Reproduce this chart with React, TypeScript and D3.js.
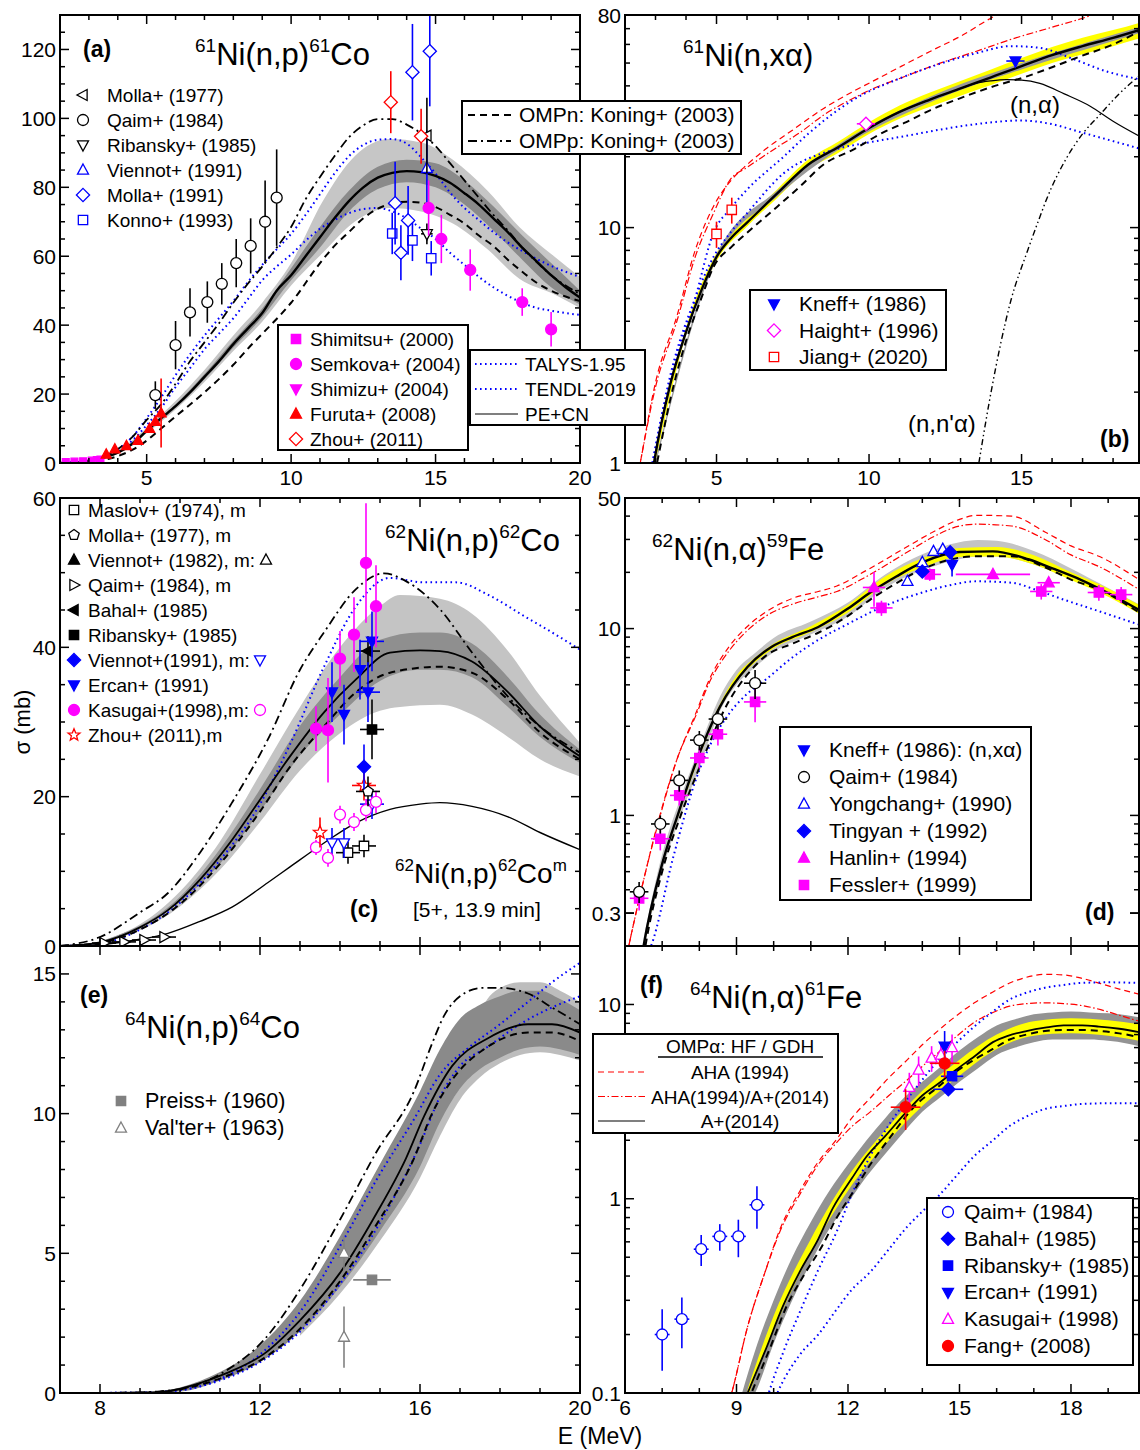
import React from "react";
import * as d3 from "d3";

type P = [number, number];
type Band = [number, number, number];
type Pt = [number, number, number, number]; // E, value, y-error, x-error

const FONT = "'Liberation Sans', Arial, Helvetica, sans-serif";

// ================= Panel (a): 61Ni(n,p)61Co =================
const aPECN: P[] = [[2,0],[2.5,0.1],[3,0.6],[3.5,1.5],[4,3],[4.5,5.5],[5,9.3],[5.5,13],[6,16.5],[6.5,20.5],[7,25],[7.5,29.5],[8,34.5],[8.5,39],[9,43.5],[9.5,50],[10,54.5],[10.5,60],[11,65.5],[11.5,71],[12,76],[12.5,80],[13,82.8],[13.5,84.2],[14,84.7],[14.5,84.4],[15,83.3],[15.5,81.3],[16,78.3],[16.5,75],[17,71],[17.5,67],[18,62.5],[18.5,58.5],[19,54.5],[19.5,51],[20,48]];
const aOMPn: P[] = [[2,0],[3,0.3],[4,2],[4.5,3.8],[5,6.5],[5.5,10],[6,13.5],[7,20.5],[8,28.5],[8.55,33.6],[9,37.5],[10,46.5],[11,58],[11.5,63],[12,67],[12.5,71],[13,73.8],[13.5,75.3],[14,75.8],[14.5,75.5],[15,74.3],[15.5,72],[16,69.5],[16.5,66],[17,63],[17.5,59],[18,55.5],[18.5,52.3],[19,50],[19.5,48.3],[20,47]];
const aOMPp: P[] = [[2,0],[3,0.8],[4,4],[4.5,7.5],[5,12.5],[5.5,17],[6,23],[6.5,29.5],[7,35],[7.5,40.5],[8,46.5],[8.5,52],[9,57],[9.5,62.5],[10,68.5],[10.5,76.5],[11,83],[11.5,89],[12,94.5],[12.5,98],[13,99.8],[13.5,99.8],[14,98.2],[14.5,95.6],[15,92],[15.5,87],[16,82],[16.5,77],[17,72],[17.5,67.5],[18,62.5],[18.5,58.3],[19,54.5],[19.5,51.5],[20,49]];
const aTALYS: P[] = [[2,0],[3,0.8],[4,4],[4.5,7.5],[5,13],[5.5,19],[6,25.5],[6.5,31.5],[7,37],[7.5,42],[8,47],[8.5,52.5],[9,57.5],[9.5,62],[10,66.5],[10.5,72],[11,78],[11.5,84],[12,89],[12.5,92.3],[13,93.8],[13.5,94],[14,92.7],[14.5,88.7],[15,84],[15.5,78.5],[16,74],[16.5,70.5],[17,67],[17.5,64],[18,61.5],[18.5,59.2],[19,57.2],[19.5,55.5],[20,54]];
const aTENDL: P[] = [[2,0],[3,0.7],[4,3.5],[4.5,6.5],[5,11],[5.5,16],[6,22],[6.5,27.5],[7,33],[7.5,37.5],[8,42],[8.5,47.5],[9,53],[9.5,57],[10,60.5],[10.5,64.5],[11,68],[11.5,70.5],[12,72.5],[12.5,73.7],[13,74],[13.5,73],[14,71],[14.5,68],[15,65],[15.5,61],[16,57.5],[16.5,54],[17,51],[17.5,48.5],[18,46.5],[18.5,45],[19,44.2],[19.5,43.5],[20,43]];
const aBandOuter: Band[] = [[2.5,0.05,0.15],[3,0.45,0.75],[4,2.6,3.4],[5,8.6,10.2],[6,15.5,18],[7,23.5,27],[8,32.5,37],[9,41,46.5],[10,51.5,58],[11.1,61,76],[12.2,70,89],[13.4,74,94],[14.5,73,93],[15.6,69.5,88],[16.8,62,79],[17.9,53.5,68.5],[19.1,49,60],[20,45,54]];
const aBandInner: Band[] = [[2.5,0.07,0.13],[3,0.5,0.7],[4,2.8,3.2],[5,9,9.7],[6,16,17],[7,24.3,25.8],[8,33.5,35.5],[9,42.3,44.8],[10,53,56.5],[11,62.5,68.5],[12,73,79],[13,79.5,86],[14,81.5,88],[15,80,87],[16,75,82],[17,67.5,74.5],[18,59,66],[19,51,58],[20,46,50]];
const aMolla77: Pt[] = [[14.7,95,11,0]];
const aQaim: Pt[] = [[5.3,19.7,4,0],[6,34.2,7,0],[6.5,43.7,7,0],[7.1,46.7,6,0],[7.6,52,6,0],[8.1,58,7,0],[8.6,63,8,0],[9.1,70,12,0],[9.5,77,14,0]];
const aRibansky: Pt[] = [[14.7,66.5,3,0.2]];
const aViennot: Pt[] = [[14.7,85.5,11,0]];
const aMolla91: Pt[] = [[13.6,75.4,12,0],[13.8,61,8,0],[14.05,70.4,10,0],[14.2,113.4,14,0],[14.8,119.5,16,0]];
const aKonno: Pt[] = [[13.5,66.6,6,0],[14.2,64.6,6,0],[14.85,59.4,5,0]];
const aShimitsu: Pt[] = [[2.2,0.3,0,0],[2.5,0.4,0,0],[2.8,0.5,0,0],[3.1,0.7,0,0],[3.4,1,0,0]];
const aSemkova: Pt[] = [[14.76,74,8,0],[15.2,65,7,0],[16.2,56,6,0],[18,46.7,4,0],[19,38.8,5,0]];
const aShimizu: Pt[] = [[3.3,1.0,0,0]];
const aFuruta: Pt[] = [[3.6,2.5,0,0],[3.9,4,0,0],[4.3,5,0,0],[4.7,6.5,0,0],[5.1,10,0,0],[5.3,12,0,0],[5.5,14.5,10,0]];
const aZhou: Pt[] = [[13.45,104.7,9,0],[14.5,94.8,8,0]];

// ================= Panel (b): 61Ni(n,xa) =================
const bPECN: P[] = [[2.8,0.75],[2.95,1],[3.5,2.2],[4,3.6],[4.5,5.4],[5,7.5],[5.5,9.1],[6,10.5],[7,14],[8,18.5],[9,22],[10,26.5],[11,31],[12,35],[13,39],[14,43.5],[15,48.5],[16,54],[17,59],[18,64],[18.85,69]];
const bOMPn: P[] = [[2.9,0.8],[3.05,1],[3.5,1.9],[4,3.3],[4.5,5],[4.9,6.8],[5.5,8.3],[6,9.5],[7,12.3],[7.75,15],[8.5,18.5],[9.5,21.5],[10.5,25.5],[11.2,28],[12,31.5],[13,35.5],[13.5,37.5],[14,39.5],[15.2,44],[16,48],[16.95,53.5],[18,60],[18.85,68]];
const bAHA: P[] = [[2.4,0.85],[2.5,1],[3,2.2],[3.7,4.2],[4.3,8],[4.9,12.3],[5.5,16],[6,18.5],[6.6,21.5],[7.5,26],[8.5,32],[9.5,38],[10.07,41.5],[11,48],[12,56],[13,65],[14.1,79],[14.5,84]];
const bAHAA: P[] = [[2.4,0.85],[2.5,1],[3,2.1],[3.7,4],[4.3,7.5],[4.9,11.5],[5.45,16],[6,18],[7,22],[7.75,25.4],[8.5,30],[9.5,35.5],[10.07,38.6],[11,43],[12.4,50.3],[13.5,56],[14.65,63],[16,71],[17.3,80],[17.6,83]];
const bTALYS: P[] = [[2.9,1],[3.5,2.3],[4.3,5],[4.9,9.5],[5.45,12],[6,14.5],[7.2,20],[8,25],[9.5,35],[11,43],[12.4,50],[13.5,55],[14.65,59],[15.6,58],[16.7,52],[17.8,46],[18.85,42.7]];
const bTENDL: P[] = [[2.9,1],[3.5,2.4],[4.3,5],[4.9,7.5],[5.45,9.5],[6,11.5],[7.2,17],[8.9,21.5],[10,23],[11.2,24.5],[12.5,26.3],[13.5,27.5],[15,28.5],[16,27.5],[16.95,25.4],[18,23.3],[18.85,21.7]];
const bNA: P[] = [[10,26.5],[11,31],[12,35],[13,39],[13.5,41],[14,42],[14.5,42.5],[15,42.3],[15.6,41],[16.4,37],[17.25,32.8],[18,28.3],[18.85,24.5]];
const bNNA: P[] = [[13.6,1],[14,2],[14.65,4.9],[15.2,8],[15.6,11.1],[15.8,13],[16.5,20],[17,25],[17.55,30],[18.2,37],[18.85,44]];
const bYellow: Band[] = [[3,1,1.05],[4,3.5,3.75],[5,7.2,7.8],[6,10.1,10.9],[7,13.4,14.6],[8,17.6,19.4],[9,20.8,23.2],[10,25,28],[11,29,33],[12,32.6,37.5],[13,36.3,42],[14,40.3,47],[15,45,52.5],[16,50,58.5],[17,54.5,64],[18,59,69],[18.85,63.5,74]];
const bGray: Band[] = [[3,0.98,1.02],[5,7.3,7.7],[7,13.6,14.4],[9,21.4,22.6],[12,34,36],[15,47,50],[18,62,66],[18.85,67,71]];
const bKneff: Pt[] = [[14.8,51,0,0.3]];
const bHaight: Pt[] = [[9.9,27.6,0,0.3]];
const bJiang: Pt[] = [[5.0,9.4,1.2,0],[5.5,11.9,1.5,0]];

// ================= Panel (c): 62Ni(n,p)62Co =================
const cPECN: P[] = [[7,0],[8,0.5],[9,2.5],[9.7,4.8],[10.5,8.9],[11.3,14.2],[12,19.6],[12.75,25.4],[13.6,31.3],[14.4,35.7],[15.25,39.3],[16,39.6],[16.5,39.5],[17.3,38.1],[18.2,34],[19,29.4],[20,25.4]];
const cOMPn: P[] = [[7,0],[8,0.4],[9,2.2],[10,5.6],[11,11],[12,18],[12.75,24],[13.6,29.4],[14.4,34],[15.25,36.6],[16.5,37.4],[17.3,36.6],[18.2,33],[19,28.6],[20,25]];
const cOMPp: P[] = [[7,0],[8,1.2],[9,4.5],[9.7,7.1],[10.5,12.5],[11.3,19.2],[12.2,27.7],[13,37],[13.6,42],[14.4,47.8],[15.1,49.9],[15.7,48.7],[16.5,45.1],[17.3,39.3],[18.2,33.4],[19,29.4],[20,25.9]];
const cTALYS: P[] = [[7,0],[8,0.3],[9,2.2],[10,5.8],[11,11.5],[12,19],[12.75,27],[13.6,37.4],[14.4,45.5],[15.25,49.3],[16.1,48.7],[16.9,48.7],[17.75,46.9],[18.6,44.2],[19.3,42],[20,39.7]];
const cIsomer: P[] = [[7,0],[8,0.2],[9,0.9],[9.7,1.7],[10.5,3.3],[11.3,5.2],[12.2,8.5],[12.75,10.6],[13.6,13.8],[14.4,16.5],[15.25,18.3],[16,19],[16.5,19.2],[17.3,18.7],[18.2,17.3],[19,15.2],[20,12.9]];
const cBandOuter: Band[] = [[8,0.4,0.6],[9,2.1,2.9],[10,5.3,7.3],[11,10.2,14],[12,16.6,23],[13,23.5,32],[14,28.5,40],[15,31.5,45.5],[15.5,32,47],[16.5,32.3,46.5],[17.3,31,44.5],[18.2,28,39.5],[19,25,33.5],[20,22.7,27.2]];
const cBandInner: Band[] = [[8,0.45,0.55],[10,5.9,6.6],[11,11,13],[12,18,21],[13,25.5,29.5],[14,31,36],[15,35.5,41],[16,37,42],[16.5,37,42],[17.3,36,40.5],[18.2,32,36],[19,28,31],[20,24.5,26.3]];
const cMaslov: Pt[] = [[14.2,12.5,1.5,0.3],[14.6,13.4,1.5,0.3]];
const cMolla77: Pt[] = [[14.7,20.7,2,0.3]];
const cQaim: Pt[] = [[8.1,0.4,0,0.3],[8.6,0.55,0,0.3],[9.1,0.8,0,0.3],[9.6,1.2,0,0.3]];
const cBahal: Pt[] = [[14.7,39.5,2,0.3]];
const cRibansky: Pt[] = [[14.8,29,4,0.3]];
const cViennot91: Pt[] = [[14.6,24,3,0]];
const cViennot91m: Pt[] = [[13.8,13.8,2,0],[14.1,13.8,2,0],[14.8,19,2,0.3]];
const cErcan: Pt[] = [[13.8,34,4,0],[14.1,31,4,0],[14.5,37,4,0],[14.7,34,4,0.3],[14.8,40.8,4,0.3]];
const cKasugai: Pt[] = [[13.4,29.1,3,0],[13.7,28.9,7,0],[14.0,38.5,3.7,0],[14.35,41.7,5,0],[14.65,51.3,8,0],[14.9,45.5,5.5,0]];
const cKasugaiM: Pt[] = [[13.4,13.2,1,0],[13.7,11.8,1.2,0],[14.0,17.6,1.2,0],[14.35,16.6,1.2,0],[14.65,18.2,1.5,0],[14.9,19.3,1.5,0]];
const cZhou: Pt[] = [[13.5,15.2,2,0],[14.6,21.5,2,0.3]];

// ================= Panel (d): 62Ni(n,a)59Fe =================
const dPECN: P[] = [[6.4,0.15],[6.5,0.2],[7,0.55],[7.43,1.02],[7.9,1.9],[8.55,3.8],[9.3,6.25],[9.95,8],[10.5,9],[11.2,10.2],[12,12.8],[12.6,15.6],[13.3,19],[14,22.6],[15,25.7],[15.9,25.9],[16.85,23.5],[17.5,21],[18.25,18.3],[19,15.5],[19.83,12.6]];
const dOMPn: P[] = [[6.45,0.15],[6.55,0.2],[7,0.5],[7.5,1],[8,1.8],[8.8,4.1],[9.3,5.7],[9.77,7.1],[10.5,8.3],[11.2,9.5],[12,11.7],[12.6,14.3],[13.3,17.5],[14,20.8],[14.7,23.3],[15.45,24.4],[16.4,24.4],[17.3,21.3],[18,18.3],[18.75,16.2],[19.83,12.2]];
const dAHA: P[] = [[6.05,0.18],[6.1,0.2],[6.5,0.45],[6.95,1.02],[7.4,2],[7.9,3.5],[8.3,5.5],[8.8,8],[9.3,10.3],[9.77,12.2],[10.5,14.5],[11.2,15.8],[11.7,16.9],[12.5,20.5],[13.6,27.5],[14.3,33],[15,38.4],[15.45,40.4],[16.4,40],[17.3,32.9],[18,27.7],[18.75,24.4],[19.83,18.3]];
const dAHAA: P[] = [[6.05,0.18],[6.1,0.2],[6.5,0.45],[6.95,1],[7.4,2],[7.9,3.4],[8.3,5.3],[8.8,7.6],[9.3,9.8],[9.77,11.6],[10.5,13.5],[11.2,14.8],[11.7,15.8],[12.5,19],[13.6,25.7],[14.3,31],[15,35.4],[15.45,36.2],[16.4,35.4],[17.3,30],[18,24.8],[18.75,21.5],[19.83,16.2]];
const dTALYS: P[] = [[6.6,0.18],[6.7,0.2],[7.3,0.6],[7.9,1.54],[8.3,2.4],[8.8,3.5],[9.3,4.5],[9.77,5.3],[10.5,7],[11.2,8.7],[12,10.6],[12.6,12.2],[13.3,14],[14,15.6],[14.7,17],[15.45,17.9],[16.4,17.6],[17.1,16],[17.8,14.3],[18.8,12.3],[19.83,10.5]];
const dGray: Band[] = [[6.5,0.19,0.22],[7,0.5,0.62],[7.5,1,1.25],[8,1.8,2.3],[8.55,3.6,4.3],[9,5,6],[9.5,6.2,7.4],[10,7.5,8.9],[11,9.3,10.9],[12,11.6,13.8],[13,16.5,19.5],[14,20.5,25],[15,23.5,29],[15.5,24.3,29.8],[16,24.3,29.5],[17,22,26],[18,18.3,21],[19,15,16.5],[19.83,12.1,13.5]];
const dYellow: Band[] = [[6.5,0.195,0.205],[7,0.54,0.56],[7.5,1.08,1.12],[8,2.05,2.15],[8.5,3.55,3.75],[9,5.2,5.6],[9.5,6.6,7.0],[10,7.85,8.3],[11,9.6,10.3],[12,12.2,13.4],[13,17.2,19],[14,21.2,23.8],[15,24.2,27],[16,24.3,27.3],[17,22,24.7],[18,18.2,20],[19,14.8,16.4],[19.83,12,13.4]];
const dKneff: Pt[] = [[14.8,22,3,0]];
const dQaim: Pt[] = [[6.38,0.39,0.05,0.25],[6.95,0.9,0.1,0.25],[7.46,1.54,0.2,0.25],[8.0,2.53,0.3,0.25],[8.5,3.28,0.4,0.25],[9.5,5.1,0.9,0.3]];
const dYongchang: Pt[] = [[13.6,17.9,0,0],[14.0,22.6,0,0],[14.3,25.9,0,0],[14.55,26.6,0,0]];
const dTingyan: Pt[] = [[14.0,20.2,0,0],[14.75,25.6,0,0]];
const dHanlin: Pt[] = [[12.7,16.6,3.5,0.3],[15.9,19.5,0,1.0],[17.4,17.6,0,0.3]];
const dFessler: Pt[] = [[6.38,0.36,0.05,0.25],[6.95,0.75,0.1,0.25],[7.46,1.28,0.15,0.25],[8.0,2.03,0.25,0.25],[8.5,2.72,0.35,0.25],[9.5,4.05,0.9,0.3],[12.9,12.9,1.2,0.3],[14.2,19.5,1.5,0.3],[17.2,15.8,1.5,0.3],[18.75,15.6,1.5,0.3],[19.35,15.2,1.5,0.3]];

// ================= Panel (e): 64Ni(n,p)64Co =================
const ePECN: P[] = [[7,0],[8,0],[9,0.01],[9.5,0.04],[10,0.15],[10.5,0.35],[11.15,0.7],[12.1,1.4],[13,2.6],[14,4.3],[14.9,6.4],[15.65,8.4],[16.1,9.9],[16.8,11.7],[17.7,12.7],[18.7,13.2],[19.3,13.2],[20,12.9]];
const eOMPn: P[] = [[7,0],[8,0],[9,0.01],[9.5,0.04],[10,0.13],[11.15,0.6],[12.1,1.25],[13,2.3],[14,4],[14.9,6],[15.85,8.4],[16.3,10],[16.8,11.2],[17.7,12.4],[18.7,12.9],[19.3,12.9],[20,12.6]];
const eOMPp: P[] = [[7,0],[8,0],[9,0.02],[9.5,0.06],[10.2,0.2],[11.15,0.8],[12.1,1.9],[13,3.7],[14,6.2],[14.9,8.6],[15.85,10.8],[16.3,12.5],[16.6,13.5],[17,14.2],[17.55,14.5],[18,14.5],[18.7,14.3],[19.3,13.8],[20,13.2]];
const eTALYS: P[] = [[7,0],[9,0.01],[10,0.1],[11,0.5],[12.1,1.5],[13,2.9],[14.25,5.9],[14.9,7.6],[15.85,9.8],[16.5,11.4],[17.25,12.4],[18,13.2],[18.7,14],[19.3,14.7],[20,15.4]];
const eTENDL: P[] = [[7,0],[9,0.01],[10,0.1],[11,0.45],[12,1.1],[13,2.2],[14,3.9],[15,6.1],[16,8.9],[16.5,10.6],[17,11.7],[17.7,12.4],[18.5,13.2],[19.3,13.8],[20,14.2]];
const eBandDark: Band[] = [[9.5,0.02,0.06],[10,0.05,0.2],[11,0.45,0.75],[12,1.1,1.7],[13,2.2,3.3],[14,3.8,5.6],[15,5.8,8.2],[16,8.1,10.8],[16.5,9.7,12.3],[17,10.9,13.4],[17.5,11.6,13.9],[18,12,14.2],[18.5,12.3,14.4],[19,12.4,14.4],[19.5,12.3,14.1],[20,12.1,13.7]];
const eBandLight: Band[] = [[13,2.05,2.4],[14,3.55,4],[15,5.45,6],[16,7.7,8.5],[16.5,9.2,10],[17,10.5,11],[17.5,11.3,13.6],[18,11.8,14.5],[18.5,12.1,14.7],[19,12.2,14.7],[19.5,12.1,14.4],[20,11.9,14]];
const ePreiss: Pt[] = [[14.8,4.05,0,0.47]];
const eValter: Pt[] = [[14.1,5.0,0.6,0],[14.1,2.0,1.1,0]];

// ================= Panel (f): 64Ni(n,a)61Fe =================
const fPECN: P[] = [[9.2,0.09],[9.3,0.1],[9.8,0.17],[10.25,0.28],[10.7,0.42],[11.2,0.62],[11.6,0.9],[12.1,1.27],[12.5,1.65],[13,2.1],[13.5,2.7],[14,3.4],[14.5,4],[14.9,4.6],[15.4,5.4],[15.9,6.4],[16.3,6.9],[16.8,7.3],[17.3,7.6],[17.8,7.8],[18.3,7.8],[18.75,7.7],[19.3,7.5],[19.83,7.2]];
const fOMPn: P[] = [[9.3,0.09],[9.4,0.1],[9.9,0.17],[10.35,0.28],[10.8,0.4],[11.3,0.57],[11.7,0.8],[12.2,1.13],[12.6,1.5],[13.1,2.03],[13.8,3],[14.45,3.8],[14.9,4.5],[15.4,5.2],[15.9,5.9],[16.35,6.6],[16.8,7],[17.3,7.3],[17.8,7.4],[18.25,7.4],[18.8,7.3],[19.3,7.1],[19.83,6.8]];
const fAHA: P[] = [[8.8,0.09],[8.87,0.1],[9.3,0.22],[9.77,0.42],[10.2,0.72],[10.7,1.09],[11.2,1.55],[11.7,2.03],[12.1,2.6],[12.6,3.3],[13.1,4.2],[13.6,5.2],[14,6.2],[14.45,7.4],[14.9,8.7],[15.4,10.2],[15.9,11.6],[16.35,12.9],[16.8,13.8],[17.3,14.3],[17.8,14.2],[18.25,13.7],[18.8,12.8],[19.3,12],[19.83,11.3]];
const fAHAA: P[] = [[8.8,0.09],[8.87,0.1],[9.3,0.22],[9.77,0.42],[10.2,0.7],[10.7,1.05],[11.2,1.5],[11.7,1.95],[12.1,2.35],[12.6,2.8],[13.1,3.4],[13.6,4.1],[14,4.8],[14.45,5.7],[14.9,6.8],[15.4,8.1],[15.9,9.1],[16.35,9.8],[16.8,10.1],[17.3,10.2],[17.8,10.1],[18.25,9.9],[18.8,9.4],[19.3,8.8],[19.83,8.2]];
const fTALYS: P[] = [[9.8,0.09],[9.87,0.1],[10.3,0.17],[10.7,0.26],[11.2,0.43],[11.7,0.68],[12.1,1.05],[12.6,1.66],[13.1,2.4],[13.6,3.26],[14,4.1],[14.45,5.2],[14.9,6.3],[15.4,7.7],[15.9,9.2],[16.35,10.6],[16.8,11.5],[17.3,12.2],[17.8,12.6],[18.25,12.9],[19,13],[19.83,12.9]];
const fTENDL: P[] = [[10,0.09],[10.1,0.1],[10.7,0.157],[11.2,0.2],[11.7,0.27],[12.1,0.34],[12.6,0.42],[13.1,0.55],[13.6,0.72],[14,0.86],[14.45,1.04],[14.9,1.3],[15.4,1.66],[15.9,2],[16.35,2.37],[16.8,2.65],[17.3,2.9],[17.8,3.0],[18.25,3.07],[19,3.1],[19.83,3.1]];
const fGray: Band[] = [[9.15,0.08,0.1],[9.5,0.1,0.165],[10,0.18,0.3],[10.5,0.3,0.5],[11,0.47,0.76],[11.5,0.7,1.1],[12,0.95,1.5],[12.5,1.3,2],[13,1.7,2.6],[13.5,2.2,3.3],[14,2.8,4],[14.5,3.35,4.8],[15,4,5.8],[15.5,4.7,6.8],[16,5.5,7.8],[16.5,6,8.4],[17,6.4,8.9],[17.5,6.6,9.1],[18,6.6,9.2],[18.5,6.6,9.1],[19,6.5,9],[19.5,6.3,8.8],[19.83,6.1,8.6]];
const fYellow: Band[] = [[9.3,0.095,0.105],[10,0.21,0.25],[11,0.53,0.62],[12,1.1,1.3],[13,1.9,2.25],[14,3,3.6],[15,4.3,5.2],[16,5.9,7],[17,6.9,8.2],[18,7.1,8.5],[19,6.9,8.3],[19.83,6.5,7.9]];
const fQaim: Pt[] = [[7.0,0.2,0.07,0.2],[7.53,0.24,0.07,0.2],[8.05,0.55,0.1,0.2],[8.55,0.64,0.1,0.2],[9.05,0.64,0.14,0.2],[9.55,0.93,0.23,0.2]];
const fBahal: Pt[] = [[14.7,3.66,0,0.4]];
const fRibansky: Pt[] = [[14.8,4.27,0,0.3]];
const fErcan: Pt[] = [[14.6,6.1,1.2,0]];
const fKasugai: Pt[] = [[13.65,3.75,0.7,0],[13.9,4.6,0.8,0],[14.25,5.3,0.8,0],[14.5,5.5,0.8,0],[14.8,6.0,1,0]];
const fFang: Pt[] = [[13.55,2.96,0.7,0.4],[14.6,4.98,0.8,0.4]];

// ================= helpers =================
const BLUE = "#0000ff", MAG = "#ff00ff", RED = "#ff0000", BLK = "#000";

type Sty = { c: string; w: number; dash: string };
const S_SOLID: Sty = { c: BLK, w: 2.4, dash: "" };
const S_THIN: Sty = { c: BLK, w: 1.2, dash: "" };
const S_DASH: Sty = { c: BLK, w: 2, dash: "7,5" };
const S_DASHDOT: Sty = { c: BLK, w: 1.8, dash: "9,4,2,4" };
const S_DDD: Sty = { c: BLK, w: 1.4, dash: "6,3,1.5,3,1.5,3" };
const S_DOT: Sty = { c: BLUE, w: 2, dash: "1.6,3.4" };
const S_RDASH: Sty = { c: RED, w: 1.2, dash: "6,4" };
const S_RDD: Sty = { c: RED, w: 1.2, dash: "7,2.5,1.5,2.5" };

function range(a: number, b: number, s: number): number[] {
  return d3.range(a, b + 1e-9, s).map((v) => Math.round(v * 1000) / 1000);
}
function logMinor(lo: number, hi: number): number[] {
  const out: number[] = [];
  for (let e = Math.floor(Math.log10(lo)); e <= Math.ceil(Math.log10(hi)); e++) {
    for (let m = 1; m < 10; m++) {
      const v = m * Math.pow(10, e);
      if (v >= lo * 0.999 && v <= hi * 1.001) out.push(v);
    }
  }
  return out;
}

interface Spec {
  id: string; L: number; R: number; T: number; B: number;
  x: any; y: any;
  xMajor: number[]; xMinor: number[]; xLab: number[];
  yMajor: number[]; yMinor: number[]; yLab: [number, string][];
}

function mkSpec(id: string, L: number, R: number, T: number, B: number, xd: [number, number], yd: [number, number], log: boolean,
  xMajor: number[], xMinor: number[], xLab: number[], yMajor: number[], yMinor: number[], yLab: [number, string][]): Spec {
  const x = d3.scaleLinear().domain(xd).range([L, R]);
  const y = log ? d3.scaleLog().domain(yd).range([B, T]) : d3.scaleLinear().domain(yd).range([B, T]);
  return { id, L, R, T, B, x, y, xMajor, xMinor, xLab, yMajor, yMinor, yLab };
}

const specA = mkSpec("a", 60, 580, 15, 463, [2, 20], [0, 130], false, [5, 10, 15, 20], range(2, 20, 1), [5, 10, 15, 20],
  range(0, 120, 20), range(0, 130, 5), [[0, "0"], [20, "20"], [40, "40"], [60, "60"], [80, "80"], [100, "100"], [120, "120"]]);
const specB = mkSpec("b", 625, 1139, 15, 463, [2, 18.85], [1, 80], true, [5, 10, 15], range(2, 18, 1), [5, 10, 15],
  [1, 10], logMinor(1, 80), [[1, "1"], [10, "10"], [80, "80"]]);
const specC = mkSpec("c", 60, 580, 498, 946, [7, 20], [0, 60], false, [8, 12, 16, 20], range(7, 20, 1), [],
  range(0, 60, 20), range(0, 60, 5), [[0, "0"], [20, "20"], [40, "40"], [60, "60"]]);
const specD = mkSpec("d", 625, 1139, 498, 946, [6, 19.83], [0.2, 50], true, [9, 12, 15, 18], range(6, 19, 1), [],
  [0.3, 1, 10], logMinor(0.2, 50), [[0.3, "0.3"], [1, "1"], [10, "10"], [50, "50"]]);
const specE = mkSpec("e", 60, 580, 946, 1393, [7, 20], [0, 16], false, [8, 12, 16, 20], range(7, 20, 1), [8, 12, 16, 20],
  range(0, 15, 5), range(0, 16, 1), [[0, "0"], [5, "5"], [10, "10"], [15, "15"]]);
const specF = mkSpec("f", 625, 1139, 946, 1393, [6, 19.83], [0.1, 20], true, [9, 12, 15, 18], range(6, 19, 1), [6, 9, 12, 15, 18],
  [0.1, 1, 10], logMinor(0.1, 20), [[0.1, "0.1"], [1, "1"], [10, "10"]]);

function Line({ sp, d, s }: { sp: Spec; d: P[]; s: Sty }) {
  const path = d3.line<P>().x((p) => sp.x(p[0])).y((p) => sp.y(p[1])).curve(d3.curveMonotoneX)(d) || "";
  return <path d={path} fill="none" stroke={s.c} strokeWidth={s.w} strokeDasharray={s.dash || undefined} />;
}
function Area({ sp, d, fill }: { sp: Spec; d: Band[]; fill: string }) {
  const path = d3.area<Band>().x((p) => sp.x(p[0])).y0((p) => sp.y(p[1])).y1((p) => sp.y(p[2])).curve(d3.curveMonotoneX)(d) || "";
  return <path d={path} fill={fill} stroke="none" />;
}

function shapePath(shape: string, r: number): string {
  switch (shape) {
    case "square": { const s = r * 0.85; return `M${-s},${-s}H${s}V${s}H${-s}Z`; }
    case "diamond": { const d = r * 1.2; return `M0,${-d}L${d},0L0,${d}L${-d},0Z`; }
    case "up": return `M0,${-r * 1.1}L${r},${r * 0.75}L${-r},${r * 0.75}Z`;
    case "down": return `M0,${r * 1.1}L${r},${-r * 0.75}L${-r},${-r * 0.75}Z`;
    case "left": return `M${-r * 1.1},0L${r * 0.75},${-r}L${r * 0.75},${r}Z`;
    case "right": return `M${r * 1.1},0L${-r * 0.75},${-r}L${-r * 0.75},${r}Z`;
    case "star": {
      let s = "";
      for (let i = 0; i < 10; i++) {
        const a = -Math.PI / 2 + (i * Math.PI) / 5;
        const rr = i % 2 === 0 ? r * 1.15 : r * 0.5;
        s += (i === 0 ? "M" : "L") + (rr * Math.cos(a)).toFixed(2) + "," + (rr * Math.sin(a)).toFixed(2);
      }
      return s + "Z";
    }
    case "pentagon": {
      let s = "";
      for (let i = 0; i < 5; i++) {
        const a = -Math.PI / 2 + (i * 2 * Math.PI) / 5;
        s += (i === 0 ? "M" : "L") + (r * Math.cos(a)).toFixed(2) + "," + (r * Math.sin(a)).toFixed(2);
      }
      return s + "Z";
    }
    default: return `M${r},0A${r},${r} 0 1,1 ${-r},0A${r},${r} 0 1,1 ${r},0Z`;
  }
}

function Mk({ s, x, y, c, f, r = 5.5 }: { s: string; x: number; y: number; c: string; f: boolean; r?: number }) {
  return <path d={shapePath(s, r)} transform={`translate(${x},${y})`} fill={f ? c : "#fff"} stroke={c} strokeWidth={1.3} />;
}

function Pts({ sp, d, s, c, f, r = 5.5 }: { sp: Spec; d: Pt[]; s: string; c: string; f: boolean; r?: number }) {
  return (
    <g>
      {d.map((p, i) => {
        const px = sp.x(p[0]), py = sp.y(p[1]);
        const lo = Math.max(p[1] - p[2], 1e-3);
        return (
          <g key={i}>
            {p[2] > 0 && <line x1={px} x2={px} y1={sp.y(lo)} y2={sp.y(p[1] + p[2])} stroke={c} strokeWidth={1.6} />}
            {p[3] > 0 && <line x1={sp.x(p[0] - p[3])} x2={sp.x(p[0] + p[3])} y1={py} y2={py} stroke={c} strokeWidth={1.6} />}
            <Mk s={s} x={px} y={py} c={c} f={f} r={r} />
          </g>
        );
      })}
    </g>
  );
}

function Frame({ sp }: { sp: Spec }) {
  const { L, R, T, B } = sp;
  const els: any[] = [];
  const MJ = 9, MN = 5;
  sp.xMinor.forEach((v, i) => {
    const X = sp.x(v);
    if (X < L - 0.5 || X > R + 0.5) return;
    const len = sp.xMajor.includes(v) ? MJ : MN;
    els.push(<line key={"xb" + i} x1={X} x2={X} y1={B} y2={B - len} stroke="#000" strokeWidth={1.5} />);
    els.push(<line key={"xt" + i} x1={X} x2={X} y1={T} y2={T + len} stroke="#000" strokeWidth={1.5} />);
  });
  const yAll = Array.from(new Set([...sp.yMinor, ...sp.yMajor]));
  yAll.forEach((v, i) => {
    const Y = sp.y(v);
    if (Y < T - 0.5 || Y > B + 0.5) return;
    const len = sp.yMajor.some((m) => Math.abs(m - v) < 1e-9) ? MJ : MN;
    els.push(<line key={"yl" + i} x1={L} x2={L + len} y1={Y} y2={Y} stroke="#000" strokeWidth={1.5} />);
    els.push(<line key={"yr" + i} x1={R} x2={R - len} y1={Y} y2={Y} stroke="#000" strokeWidth={1.5} />);
  });
  return (
    <g>
      <rect x={L} y={T} width={R - L} height={B - T} fill="none" stroke="#000" strokeWidth={2} />
      {els}
      {sp.xLab.map((v) => (
        <text key={"xl" + v} x={sp.x(v)} y={B + 22} fontSize={21} textAnchor="middle">{v}</text>
      ))}
      {sp.yLab.map(([v, t]) => (
        <text key={"ylb" + t} x={L - 4} y={sp.y(v) + 7.5} fontSize={21} textAnchor="end">{t}</text>
      ))}
    </g>
  );
}

function Panel({ sp, children }: { sp: Spec; children: any }) {
  return (
    <g>
      <defs>
        <clipPath id={"clip-" + sp.id}>
          <rect x={sp.L} y={sp.T} width={sp.R - sp.L} height={sp.B - sp.T} />
        </clipPath>
      </defs>
      <g clipPath={`url(#clip-${sp.id})`}>{children}</g>
      <Frame sp={sp} />
    </g>
  );
}

function Title({ x, y, parts, fs = 31, ss = 19 }: { x: number; y: number; parts: [string, boolean][]; fs?: number; ss?: number }) {
  let prevSup = false;
  const up = Math.round(fs * 0.42);
  const spans = parts.map(([t, sup], i) => {
    let dy = 0;
    if (sup && !prevSup) dy = -up;
    if (!sup && prevSup) dy = up;
    prevSup = sup;
    return (
      <tspan key={i} dy={dy} fontSize={sup ? ss : fs}>{t}</tspan>
    );
  });
  return <text x={x} y={y} fontSize={fs}>{spans}</text>;
}

type LegM = { t: string; s: string; c: string; f: boolean; ex?: [string, string, boolean, number] };
function MarkLegend({ items, mx, tx, y0, dy, fs = 19 }: { items: LegM[]; mx: number; tx: number; y0: number; dy: number; fs?: number }) {
  return (
    <g>
      {items.map((it, i) => (
        <g key={i}>
          <Mk s={it.s} x={mx} y={y0 + i * dy} c={it.c} f={it.f} />
          <text x={tx} y={y0 + i * dy + 7} fontSize={fs}>{it.t}</text>
          {it.ex && <Mk s={it.ex[0]} x={it.ex[3]} y={y0 + i * dy} c={it.ex[1]} f={it.ex[2]} />}
        </g>
      ))}
    </g>
  );
}
function LineLegend({ items, x1, x2, tx, y0, dy, fs = 19, anchor = "start" }: { items: { t: string; s: Sty }[]; x1: number; x2: number; tx: number; y0: number; dy: number; fs?: number; anchor?: string }) {
  return (
    <g>
      {items.map((it, i) => (
        <g key={i}>
          <line x1={x1} x2={x2} y1={y0 + i * dy} y2={y0 + i * dy} stroke={it.s.c} strokeWidth={Math.min(it.s.w, 2)} strokeDasharray={it.s.dash || undefined} />
          <text x={tx} y={y0 + i * dy + 7} fontSize={fs} textAnchor={anchor as any}>{it.t}</text>
        </g>
      ))}
    </g>
  );
}
function Box({ x, y, w, h }: { x: number; y: number; w: number; h: number }) {
  return <rect x={x} y={y} width={w} height={h} fill="#fff" stroke="#000" strokeWidth={2} />;
}

export default function App() {
  const A = specA, Bs = specB, C = specC, D = specD, E = specE, F = specF;
  return (
    <svg width={1140} height={1450} style={{ position: "absolute", left: 0, top: 0, fontFamily: FONT }}>
      <rect width={1140} height={1450} fill="#fff" />

      {/* ================= plot areas ================= */}
      <Panel sp={A}>
        <Area sp={A} d={aBandOuter} fill="#c6c6c6" />
        <Area sp={A} d={aBandInner} fill="#8a8a8a" />
        <Line sp={A} d={aTENDL} s={S_DOT} />
        <Line sp={A} d={aTALYS} s={S_DOT} />
        <Line sp={A} d={aOMPn} s={S_DASH} />
        <Line sp={A} d={aOMPp} s={S_DASHDOT} />
        <Line sp={A} d={aPECN} s={S_SOLID} />
        <Pts sp={A} d={aShimitsu} s="square" c={MAG} f={true} r={4} />
        <Pts sp={A} d={aShimizu} s="down" c={MAG} f={true} r={4} />
        <Pts sp={A} d={aFuruta} s="up" c={RED} f={true} r={5} />
        <Pts sp={A} d={aQaim} s="circle" c={BLK} f={false} />
        <Pts sp={A} d={aKonno} s="square" c={BLUE} f={false} />
        <Pts sp={A} d={aMolla91} s="diamond" c={BLUE} f={false} />
        <Pts sp={A} d={aViennot} s="up" c={BLUE} f={false} />
        <Pts sp={A} d={aRibansky} s="down" c={BLK} f={false} />
        <Pts sp={A} d={aMolla77} s="left" c={BLK} f={false} />
        <Pts sp={A} d={aZhou} s="diamond" c={RED} f={false} />
        <Pts sp={A} d={aSemkova} s="circle" c={MAG} f={true} />
      </Panel>

      <Panel sp={Bs}>
        <Area sp={Bs} d={bYellow} fill="#ffff00" />
        <Area sp={Bs} d={bGray} fill="#9a9a9a" />
        <Line sp={Bs} d={bAHA} s={S_RDASH} />
        <Line sp={Bs} d={bAHAA} s={S_RDD} />
        <Line sp={Bs} d={bTALYS} s={S_DOT} />
        <Line sp={Bs} d={bTENDL} s={S_DOT} />
        <Line sp={Bs} d={bOMPn} s={S_DASH} />
        <Line sp={Bs} d={bNA} s={S_THIN} />
        <Line sp={Bs} d={bNNA} s={S_DDD} />
        <Line sp={Bs} d={bPECN} s={S_SOLID} />
        <Pts sp={Bs} d={bJiang} s="square" c={RED} f={false} />
        <Pts sp={Bs} d={bHaight} s="diamond" c={MAG} f={false} />
        <Pts sp={Bs} d={bKneff} s="down" c={BLUE} f={true} />
      </Panel>

      <Panel sp={C}>
        <Area sp={C} d={cBandOuter} fill="#c4c4c4" />
        <Area sp={C} d={cBandInner} fill="#8f8f8f" />
        <Line sp={C} d={cTALYS} s={S_DOT} />
        <Line sp={C} d={cOMPp} s={S_DASHDOT} />
        <Line sp={C} d={cOMPn} s={S_DASH} />
        <Line sp={C} d={cPECN} s={{ c: BLK, w: 1.8, dash: "" }} />
        <Line sp={C} d={cIsomer} s={{ c: BLK, w: 1.4, dash: "" }} />
        <Pts sp={C} d={cQaim} s="right" c={BLK} f={false} />
        <Pts sp={C} d={cMaslov} s="square" c={BLK} f={false} />
        <Pts sp={C} d={cViennot91m} s="down" c={BLUE} f={false} />
        <Pts sp={C} d={cKasugaiM} s="circle" c={MAG} f={false} />
        <Pts sp={C} d={cZhou} s="star" c={RED} f={false} r={6} />
        <Pts sp={C} d={cMolla77} s="pentagon" c={BLK} f={false} />
        <Pts sp={C} d={cViennot91} s="diamond" c={BLUE} f={true} />
        <Pts sp={C} d={cRibansky} s="square" c={BLK} f={true} />
        <Pts sp={C} d={cBahal} s="left" c={BLK} f={true} />
        <Pts sp={C} d={cErcan} s="down" c={BLUE} f={true} />
        <Pts sp={C} d={cKasugai} s="circle" c={MAG} f={true} />
      </Panel>

      <Panel sp={D}>
        <Area sp={D} d={dGray} fill="#c4c4c4" />
        <Area sp={D} d={dYellow} fill="#ffff00" />
        <Line sp={D} d={dAHA} s={S_RDASH} />
        <Line sp={D} d={dAHAA} s={S_RDD} />
        <Line sp={D} d={dTALYS} s={S_DOT} />
        <Line sp={D} d={dOMPn} s={S_DASH} />
        <Line sp={D} d={dPECN} s={S_SOLID} />
        <Pts sp={D} d={dFessler} s="square" c={MAG} f={true} />
        <Pts sp={D} d={dQaim} s="circle" c={BLK} f={false} />
        <Pts sp={D} d={dHanlin} s="up" c={MAG} f={true} />
        <Pts sp={D} d={dYongchang} s="up" c={BLUE} f={false} />
        <Pts sp={D} d={dTingyan} s="diamond" c={BLUE} f={true} />
        <Pts sp={D} d={dKneff} s="down" c={BLUE} f={true} />
      </Panel>

      <Panel sp={E}>
        <Area sp={E} d={eBandLight} fill="#bdbdbd" />
        <Area sp={E} d={eBandDark} fill="#8a8a8a" />
        <Line sp={E} d={eTALYS} s={S_DOT} />
        <Line sp={E} d={eTENDL} s={S_DOT} />
        <Line sp={E} d={eOMPp} s={S_DASHDOT} />
        <Line sp={E} d={eOMPn} s={S_DASH} />
        <Line sp={E} d={ePECN} s={{ c: BLK, w: 1.8, dash: "" }} />
        <Pts sp={E} d={ePreiss} s="square" c="#808080" f={true} />
        <Pts sp={E} d={eValter} s="up" c="#808080" f={false} />
      </Panel>

      <Panel sp={F}>
        <Area sp={F} d={fGray} fill="#939393" />
        <Area sp={F} d={fYellow} fill="#ffff00" />
        <Line sp={F} d={fAHA} s={S_RDASH} />
        <Line sp={F} d={fAHAA} s={S_RDD} />
        <Line sp={F} d={fTALYS} s={S_DOT} />
        <Line sp={F} d={fTENDL} s={S_DOT} />
        <Line sp={F} d={fOMPn} s={S_DASH} />
        <Line sp={F} d={fPECN} s={{ c: BLK, w: 1.8, dash: "" }} />
        <Pts sp={F} d={fQaim} s="circle" c={BLUE} f={false} />
        <Pts sp={F} d={fKasugai} s="up" c={MAG} f={false} />
        <Pts sp={F} d={fBahal} s="diamond" c={BLUE} f={true} />
        <Pts sp={F} d={fRibansky} s="square" c={BLUE} f={true} />
        <Pts sp={F} d={fErcan} s="down" c={BLUE} f={true} />
        <Pts sp={F} d={fFang} s="circle" c={RED} f={true} />
      </Panel>

      {/* ================= annotations & legends (on top) ================= */}
      {/* (a) */}
      <text x={83} y={57} fontSize={23} fontWeight="bold">(a)</text>
      <Title x={195} y={65} parts={[["61", true], ["Ni(n,p)", false], ["61", true], ["Co", false]]} />
      <MarkLegend mx={83} tx={107} y0={95} dy={25} items={[
        { t: "Molla+ (1977)", s: "left", c: BLK, f: false },
        { t: "Qaim+ (1984)", s: "circle", c: BLK, f: false },
        { t: "Ribansky+ (1985)", s: "down", c: BLK, f: false },
        { t: "Viennot+ (1991)", s: "up", c: BLUE, f: false },
        { t: "Molla+ (1991)", s: "diamond", c: BLUE, f: false },
        { t: "Konno+ (1993)", s: "square", c: BLUE, f: false },
      ]} />
      <Box x={462} y={101} w={279} h={53} />
      <LineLegend x1={468} x2={511} tx={519} y0={115} dy={26} fs={21} items={[
        { t: "OMPn: Koning+ (2003)", s: S_DASH },
        { t: "OMPp: Koning+ (2003)", s: S_DASHDOT },
      ]} />
      <Box x={278} y={325} w={190} h={125} />
      <MarkLegend mx={296} tx={310} y0={339} dy={25} items={[
        { t: "Shimitsu+ (2000)", s: "square", c: MAG, f: true },
        { t: "Semkova+ (2004)", s: "circle", c: MAG, f: true },
        { t: "Shimizu+ (2004)", s: "down", c: MAG, f: true },
        { t: "Furuta+ (2008)", s: "up", c: RED, f: true },
        { t: "Zhou+ (2011)", s: "diamond", c: RED, f: false },
      ]} />
      <Box x={470} y={350} w={175} h={75} />
      <LineLegend x1={475} x2={518} tx={525} y0={364} dy={25} items={[
        { t: "TALYS-1.95", s: S_DOT },
        { t: "TENDL-2019", s: S_DOT },
        { t: "PE+CN", s: S_THIN },
      ]} />

      {/* (b) */}
      <Title x={683} y={66} parts={[["61", true], ["Ni(n,xα)", false]]} />
      <text x={1010} y={113} fontSize={24}>(n,α)</text>
      <text x={908} y={432} fontSize={24}>(n,n'α)</text>
      <text x={1100} y={447} fontSize={23} fontWeight="bold">(b)</text>
      <Box x={750} y={290} w={196} h={80} />
      <MarkLegend mx={774} tx={799} y0={304} dy={26.5} fs={21} items={[
        { t: "Kneff+ (1986)", s: "down", c: BLUE, f: true },
        { t: "Haight+ (1996)", s: "diamond", c: MAG, f: false },
        { t: "Jiang+ (2020)", s: "square", c: RED, f: false },
      ]} />

      {/* (c) */}
      <Title x={385} y={551} parts={[["62", true], ["Ni(n,p)", false], ["62", true], ["Co", false]]} />
      <Title x={395} y={883} fs={28} ss={17} parts={[["62", true], ["Ni(n,p)", false], ["62", true], ["Co", false], ["m", true]]} />
      <text x={413} y={917} fontSize={21}>[5+, 13.9 min]</text>
      <text x={350} y={917} fontSize={23} fontWeight="bold">(c)</text>
      <MarkLegend mx={74} tx={88} y0={510} dy={25} items={[
        { t: "Maslov+ (1974), m", s: "square", c: BLK, f: false },
        { t: "Molla+ (1977), m", s: "pentagon", c: BLK, f: false },
        { t: "Viennot+ (1982), m:", s: "up", c: BLK, f: true, ex: ["up", BLK, false, 266] },
        { t: "Qaim+ (1984), m", s: "right", c: BLK, f: false },
        { t: "Bahal+ (1985)", s: "left", c: BLK, f: true },
        { t: "Ribansky+ (1985)", s: "square", c: BLK, f: true },
        { t: "Viennot+(1991), m:", s: "diamond", c: BLUE, f: true, ex: ["down", BLUE, false, 260] },
        { t: "Ercan+ (1991)", s: "down", c: BLUE, f: true },
        { t: "Kasugai+(1998),m:", s: "circle", c: MAG, f: true, ex: ["circle", MAG, false, 260] },
        { t: "Zhou+ (2011),m", s: "star", c: RED, f: false },
      ]} />
      <text transform="translate(30,722) rotate(-90)" fontSize={22} textAnchor="middle">σ (mb)</text>

      {/* (d) */}
      <Title x={652} y={560} parts={[["62", true], ["Ni(n,α)", false], ["59", true], ["Fe", false]]} />
      <text x={1085} y={920} fontSize={23} fontWeight="bold">(d)</text>
      <Box x={780} y={727} w={251} h={173} />
      <MarkLegend mx={804} tx={829} y0={750} dy={27} fs={21} items={[
        { t: "Kneff+ (1986): (n,xα)", s: "down", c: BLUE, f: true },
        { t: "Qaim+ (1984)", s: "circle", c: BLK, f: false },
        { t: "Yongchang+ (1990)", s: "up", c: BLUE, f: false },
        { t: "Tingyan + (1992)", s: "diamond", c: BLUE, f: true },
        { t: "Hanlin+ (1994)", s: "up", c: MAG, f: true },
        { t: "Fessler+ (1999)", s: "square", c: MAG, f: true },
      ]} />

      {/* (e) */}
      <text x={80} y={1003} fontSize={23} fontWeight="bold">(e)</text>
      <Title x={125} y={1038} parts={[["64", true], ["Ni(n,p)", false], ["64", true], ["Co", false]]} />
      <MarkLegend mx={121} tx={145} y0={1101} dy={27} fs={21.5} items={[
        { t: "Preiss+ (1960)", s: "square", c: "#808080", f: true },
        { t: "Val'ter+ (1963)", s: "up", c: "#808080", f: false },
      ]} />

      {/* (f) */}
      <text x={640} y={993} fontSize={23} fontWeight="bold">(f)</text>
      <Title x={690} y={1008} parts={[["64", true], ["Ni(n,α)", false], ["61", true], ["Fe", false]]} />
      <Box x={593} y={1034} w={245} h={99} />
      <text x={740} y={1053} fontSize={19} textAnchor="middle">OMPα: HF / GDH</text>
      <line x1={658} x2={823} y1={1057} y2={1057} stroke="#000" strokeWidth={1.5} />
      <LineLegend x1={598} x2={645} tx={740} anchor="middle" y0={1072} dy={24.5} items={[
        { t: "AHA (1994)", s: S_RDASH },
        { t: "AHA(1994)/A+(2014)", s: S_RDD },
        { t: "A+(2014)", s: S_THIN },
      ]} />
      <Box x={927} y={1198} w={206} h={167} />
      <MarkLegend mx={948} tx={964} y0={1212} dy={26.8} fs={21} items={[
        { t: "Qaim+ (1984)", s: "circle", c: BLUE, f: false },
        { t: "Bahal+ (1985)", s: "diamond", c: BLUE, f: true },
        { t: "Ribansky+ (1985)", s: "square", c: BLUE, f: true },
        { t: "Ercan+ (1991)", s: "down", c: BLUE, f: true },
        { t: "Kasugai+ (1998)", s: "up", c: MAG, f: false },
        { t: "Fang+ (2008)", s: "circle", c: RED, f: true },
      ]} />

      <text x={600} y={1444} fontSize={23} textAnchor="middle">E (MeV)</text>
    </svg>
  );
}
